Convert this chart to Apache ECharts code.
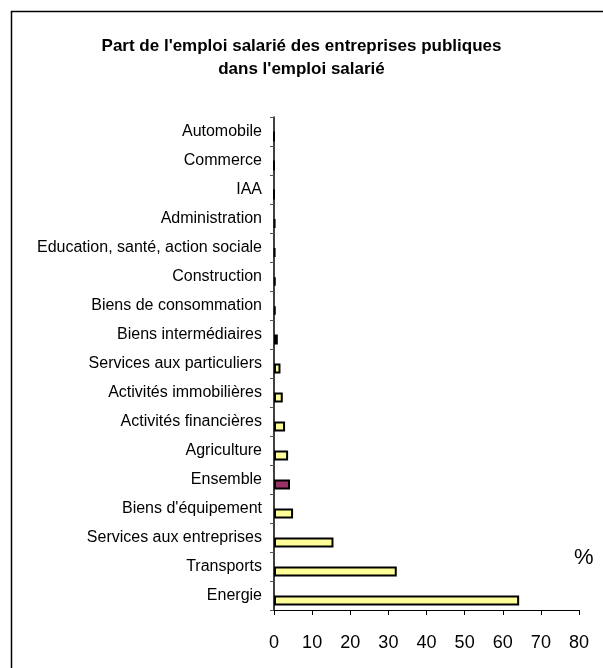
<!DOCTYPE html>
<html>
<head>
<meta charset="utf-8">
<script src="https://cdn.jsdelivr.net/npm/echarts@6/dist/echarts.min.js"></script>
<style>
  html, body { margin: 0; padding: 0; background: #fff; }
  #chart { width: 603px; height: 668px; }
</style>
</head>
<body>
<div id="chart"></div>
<script>
// secteurs, du haut vers le bas
const categories = [
    'Automobile', 'Commerce', 'IAA', 'Administration',
    'Education, santé, action sociale', 'Construction', 'Biens de consommation',
    'Biens intermédiaires', 'Services aux particuliers', 'Activités immobilières',
    'Activités financières', 'Agriculture', 'Ensemble', "Biens d'équipement",
    'Services aux entreprises', 'Transports', 'Energie'
];
// part en %
const values = [0, 0, 0, 0.3, 0.3, 0.4, 0.4, 1.0, 1.7, 2.3, 2.9, 3.7, 4.2, 5.0, 15.6, 32.2, 64.3];
const xTicks = [0, 10, 20, 30, 40, 50, 60, 70, 80];

const chart = echarts.init(document.getElementById('chart'));

let option = {
    animation: false,
    backgroundColor: '#fff',
    textStyle: {fontFamily: 'Liberation Sans, Arial, sans-serif'},
    title: {
        text: "Part de l'emploi salarié des entreprises publiques\ndans l'emploi salarié",
        left: 'center',
        top: 30,
        textStyle: {fontSize: 17, fontWeight: 'bold', color: '#000', lineHeight: 23}
    },
    graphic: [
        {
            type: 'rect',
            shape: {x: 11.5, y: 11.5, width: 700, height: 700},
            style: {fill: 'none', stroke: '#000', lineWidth: 1.5},
            silent: true
        },
        {
            type: 'text',
            left: 574,
            top: 547,
            style: {text: '%', fontSize: 22, fill: '#000', fontFamily: 'Liberation Sans, Arial, sans-serif'}
        }
    ],
    grid: {left: 274, right: 24, top: 117, bottom: 58},
    xAxis: {
        type: 'value',
        min: xTicks[0],
        max: xTicks[xTicks.length - 1],
        interval: 10,
        axisLine: {show: true, lineStyle: {color: '#000', width: 1}},
        axisTick: {show: true, length: 5, lineStyle: {color: '#000'}},
        axisLabel: {fontSize: 18, color: '#000', margin: 24},
        splitLine: {show: false}
    },
    yAxis: {
        type: 'category',
        inverse: true,
        data: categories,
        axisLine: {lineStyle: {color: '#000', width: 1.5}},
        axisTick: {show: true, length: 4, lineStyle: {color: '#555'}},
        axisLabel: {fontSize: 16, color: '#000', margin: 12}
    },
    series: [
        {
            type: 'bar',
            data: values.map(() => '-'),
            barWidth: 1,
            barGap: '900%',
            silent: true
        },
        {
            type: 'bar',
            barWidth: 10,
            data: values.map((v, i) => ({
                value: v,
                itemStyle: {color: categories[i] === 'Ensemble' ? '#993366' : '#FFFF99'}
            })),
            itemStyle: {borderColor: '#000', borderWidth: 2}
        }
    ]
};

chart.setOption(option);
</script>
</body>
</html>
